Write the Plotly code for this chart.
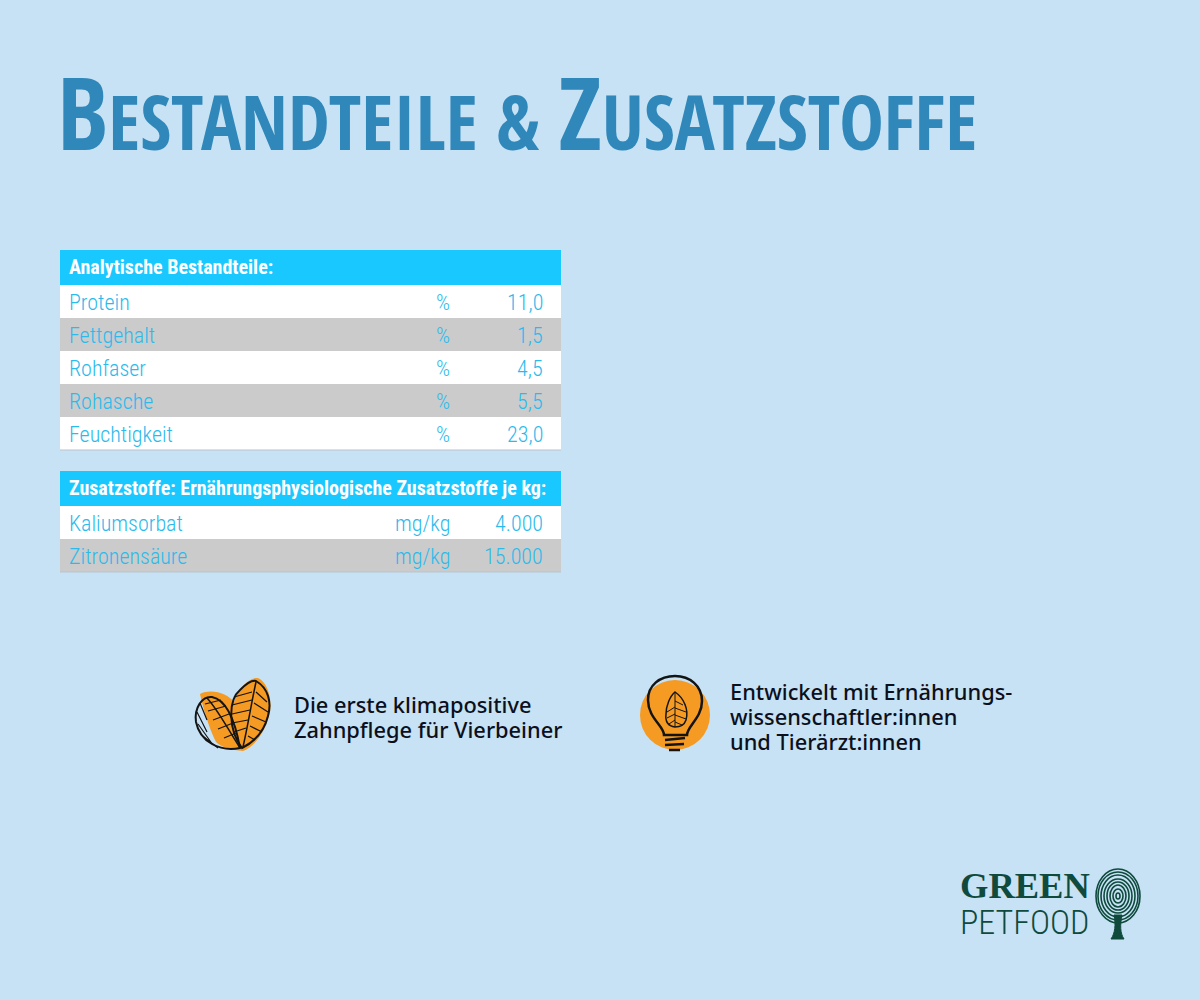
import plotly.graph_objects as go

BG = "#c6e2f4"
HEAD = "#19c8ff"
TXT = "#2bbaec"
GREY = "#cbcbcb"
ORANGE = "#f59a23"
INK = "#141414"
DARK = "#0f4a3d"

analytic_title = "Analytische Bestandteile:"
analytic_names = ["Protein", "Fettgehalt", "Rohfaser", "Rohasche", "Feuchtigkeit"]
analytic_units = ["%", "%", "%", "%", "%"]
analytic_values = ["11,0", "1,5", "4,5", "5,5", "23,0"]

additive_title = "Zusatzstoffe: Ernährungsphysiologische Zusatzstoffe je kg:"
additive_names = ["Kaliumsorbat", "Zitronensäure"]
additive_units = ["mg/kg", "mg/kg"]
additive_values = ["4.000", "15.000"]

NARROW = "Roboto Condensed"
BODY = "Noto Sans"

fig = go.Figure()


def text(x, y, s, size, color, family, anchor="left", weight=None):
    fig.add_annotation(
        x=x, y=y, text=s, showarrow=False, xanchor=anchor, yanchor="middle",
        borderpad=0, align=anchor,
        font=dict(size=size, color=color, family=family, weight=weight),
    )


def rect(x0, y0, x1, y1, fill):
    fig.add_shape(type="rect", x0=x0, y0=y0, x1=x1, y1=y1,
                  fillcolor=fill, line_width=0, layer="below")


def path(d, fill="rgba(0,0,0,0)", color=INK, width=2):
    fig.add_shape(type="path", path=d, fillcolor=fill,
                  line=dict(color=color, width=width), layer="below")


def block(top, title, names, units, values):
    rect(60, top, 561, top + 35, HEAD)
    text(68, top + 17, title, 20, "white", NARROW, weight=700)
    y = top + 35
    for i, name in enumerate(names):
        rect(60, y, 561, y + 33, GREY if i % 2 else "white")
        text(68, y + 17, name, 22, TXT, NARROW, weight=300)
        text(451, y + 17, units[i], 22, TXT, NARROW, anchor="right", weight=300)
        text(544, y + 17, values[i], 22, TXT, NARROW, anchor="right", weight=300)
        y += 33
    # thin grey edge under the table
    rect(60, y - 0.5, 561, y + 0.5, "#b9c4cb")


block(250, analytic_title, analytic_names, analytic_units, analytic_values)
block(471, additive_title, additive_names, additive_units, additive_values)

# title, big initials like the small caps of the original
cap = '<span style="font-size:101px">%s</span>'
text(56, 111, cap % "B" + "ESTANDTEILE & " + cap % "Z" + "USATZSTOFFE", 75, "#2f87ba", "Open Sans Condensed")

# leaf icon
path("M200,694 C212,688 228,694 234,702 C238,688 250,677 258,678 C268,682 272,700 270,712 "
     "C266,730 256,746 243,751 C232,750 222,748 216,742 C210,730 204,712 200,694 Z",
     fill=ORANGE, color=ORANGE, width=0)
path("M240,748 C220,752 200,742 196,722 C194,708 202,696 212,697 C228,700 236,726 240,748 Z")
path("M242,748 C228,730 228,700 240,690 C246,684 252,680 256,681 C268,688 272,702 268,716 C264,732 254,742 242,748 Z")
path("M240,748 C226,726 218,710 207,698 M243,747 C248,725 252,700 256,682", width=1.5)
path("M205,704 L221,700 M208,711 L226,706 M213,720 L229,714 M218,729 L233,723 M224,738 L236,733 "
     "M200,703 L207,720 M197,712 L207,732 M198,724 L213,745 M204,737 L218,748", width=1.2)
path("M234,697 L252,692 M232,705 L252,700 M232,714 L250,710 M232,723 L248,720 M234,732 L246,728 "
     "M256,692 L267,702 M254,703 L268,712 M252,716 L266,722 M250,726 L262,732 M248,736 L255,740", width=1.2)

# bulb icon
fig.add_shape(type="circle", x0=640, y0=680, x1=710, y1=750, fillcolor=ORANGE, line_width=0, layer="below")
path("M664,735 C664,726 648,718 648,700 C648,685 660,676 675,676 C690,676 702,686 702,701 "
     "C702,718 687,726 687,735 Z", width=2.5)
path("M665,740 L685,738 M665,745 L684,744 M669,750 L680,750", width=2.5)
path("M675,692 C684,698 689,710 686,720 C684,726 680,727 675,727 C668,726 665,722 666,714 C666,706 670,696 675,692 Z", width=1.5)
path("M675,692 L675,727 M667,712 L675,707 M667,718 L675,714 M669,724 L675,720 "
     "M675,701 L683,705 M675,708 L686,712 M675,715 L686,719 M675,722 L682,725", width=1)

text(293, 704, "Die erste klimapositive", 21.8, "#0c0f1c", BODY, weight=500)
text(293, 729, "Zahnpflege für Vierbeiner", 21.8, "#0c0f1c", BODY, weight=500)
text(729, 691, "Entwickelt mit Ernährungs-", 21.8, "#0c0f1c", BODY, weight=500)
text(729, 716, "wissenschaftler:innen", 21.8, "#0c0f1c", BODY, weight=500)
text(729, 741, "und Tierärzt:innen", 21.8, "#0c0f1c", BODY, weight=500)

# logo
text(959, 885, "GREEN", 36.5, DARK, "Liberation Serif", weight=700)
text(959, 922, "PETFOOD", 34, DARK, NARROW, weight=300)
for rx, ry in [(2, 3), (5, 7), (8, 11), (11, 14), (14, 17), (17, 21), (20, 24), (22, 27)]:
    fig.add_shape(type="circle", x0=1118 - rx, y0=896 - ry, x1=1118 + rx, y1=896 + ry,
                  fillcolor="rgba(0,0,0,0)", line=dict(color=DARK, width=1.6), layer="below")
path("M1114,915 C1116,925 1115,933 1111,939 L1124,939 C1120,933 1120,925 1122,915 Z", fill=DARK, color=DARK, width=1)

fig.update_layout(
    width=1200, height=1000,
    margin=dict(l=0, r=0, t=0, b=0),
    paper_bgcolor=BG, plot_bgcolor=BG,
    showlegend=False,
    xaxis=dict(range=[0, 1200], visible=False, fixedrange=True),
    yaxis=dict(range=[1000, 0], visible=False, fixedrange=True),
)
# the page keeps a default body margin otherwise
fig.write_html("out.html", config={"displayModeBar": False},
               post_script="document.body.style.margin = '0';")
